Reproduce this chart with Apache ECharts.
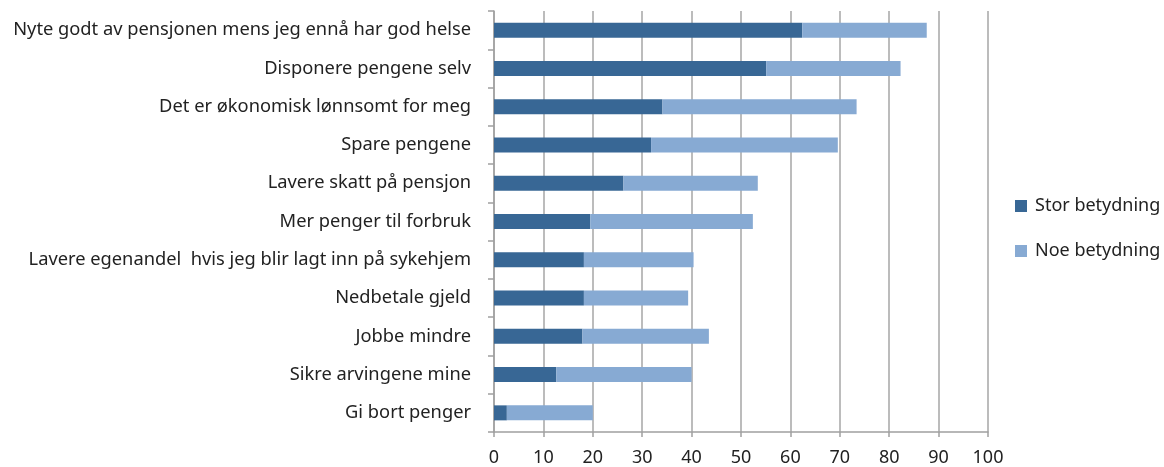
<!DOCTYPE html>
<html>
<head>
<meta charset="utf-8">
<script src="https://cdn.jsdelivr.net/npm/echarts@6/dist/echarts.min.js"></script>
<style>
  html, body { margin: 0; padding: 0; background: #fff; }
  #chart { width: 1164px; height: 467px; }
</style>
</head>
<body>
<div id="chart"></div>
<script>
// kategorier, ovenfra og ned
const categories = [
  "Nyte godt av pensjonen mens jeg ennå har god helse",
  "Disponere pengene selv",
  "Det er økonomisk lønnsomt for meg",
  "Spare pengene",
  "Lavere skatt på pensjon",
  "Mer penger til forbruk",
  "Lavere egenandel  hvis jeg blir lagt inn på sykehjem",
  "Nedbetale gjeld",
  "Jobbe mindre",
  "Sikre arvingene mine",
  "Gi bort penger"
];
const storBetydning = [62.4, 55.1, 34.1, 31.8, 26.2, 19.5, 18.2, 18.2, 17.9, 12.6, 2.6];
const noeBetydning = [25.2, 27.2, 39.3, 37.8, 27.2, 32.9, 22.2, 21.1, 25.6, 27.4, 17.4];
const xTicks = [0, 10, 20, 30, 40, 50, 60, 70, 80, 90, 100];

const font = "Noto Sans";
let chart = echarts.init(document.getElementById("chart"));
chart.setOption({
  animation: false,
  textStyle: { fontFamily: font },
  legend: {
    orient: "vertical",
    left: 1010,
    top: 192,
    itemWidth: 12,
    itemHeight: 12,
    itemGap: 27,
    icon: "rect",
    textStyle: { fontSize: 18, lineHeight: 18, color: "#222", fontFamily: font, padding: [0, 0, 0, 3] },
    data: ["Stor betydning", "Noe betydning"]
  },
  grid: { left: 494, top: 11, width: 494, height: 422, containLabel: false },
  xAxis: {
    type: "value",
    min: xTicks[0],
    max: xTicks[xTicks.length - 1],
    interval: 10,
    axisLine: { show: true, lineStyle: { color: "#a0a0a0", width: 1.5 } },
    axisTick: { show: true, length: 5, lineStyle: { color: "#a0a0a0", width: 1.5 } },
    splitLine: { show: true, lineStyle: { color: "#a6a6a6", width: 1.5 } },
    axisLabel: { fontSize: 18, color: "#222", margin: 17, fontFamily: font }
  },
  yAxis: {
    type: "category",
    inverse: true,
    data: categories,
    axisLine: { show: true, lineStyle: { color: "#a0a0a0", width: 1.5 } },
    axisTick: { show: true, length: 6, lineStyle: { color: "#a0a0a0", width: 1.5 } },
    axisLabel: { fontSize: 18.3, color: "#222", margin: 23, fontFamily: font }
  },
  series: [
    {
      name: "Stor betydning",
      type: "bar",
      stack: "total",
      barWidth: 15,
      itemStyle: { color: "#386795" },
      data: storBetydning
    },
    {
      name: "Noe betydning",
      type: "bar",
      stack: "total",
      barWidth: 15,
      itemStyle: { color: "#87aad3" },
      data: noeBetydning
    }
  ]
});
</script>
</body>
</html>
